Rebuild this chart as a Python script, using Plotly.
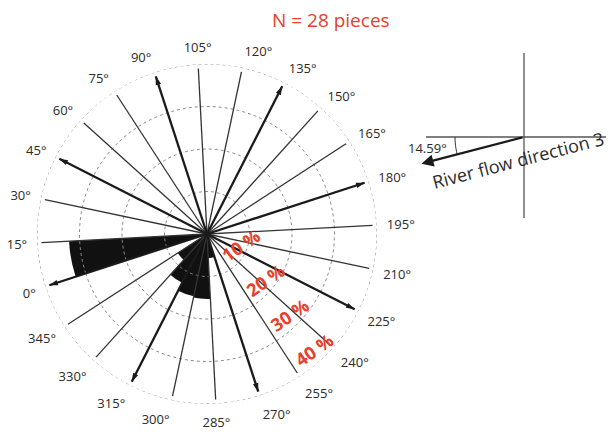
import math
import plotly.graph_objects as go

# ---------------- data ----------------
bin_centers = [7.5, 337.5, 322.5, 307.5, 292.5, 277.5]      # degrees (15-degree bins)
bin_percent = [32.5, 8.2, 12.9, 15.0, 15.3, 5.7]            # % of pieces
bin_width = 15

spoke_angles = list(range(0, 360, 15))
arrow_angles = [0, 45, 90, 135, 180, 225, 270, 315]
spoke_length = 39.0

angle_tickvals = list(range(0, 360, 15))
angle_ticktext = [f"{a}°" for a in angle_tickvals]
pct_tickvals = [10, 20, 30, 40]
pct_ticktext = ["10 %", "20 %", "30 %", "40 %"]

title_text = "N = 28 pieces"
flow_label = "River flow direction 3"
flow_angle = 14.59

# ---------------- layout constants ----------------
W, H = 611, 434
CX, CY, R = 207, 234, 170
ROTATION = 198
LABEL_INSET = 3.0          # % units: ring labels sit just inside their ring
RED = "#e8402a"
INK = "#2a2a2a"

fig = go.Figure()

# dotted rings
ring_theta = list(range(0, 361, 2))
for v in pct_tickvals:
    fig.add_trace(go.Scatterpolar(r=[v] * len(ring_theta), theta=ring_theta, mode="lines",
                                  line=dict(color="#8a8a8a", width=1, dash="dot"),
                                  cliponaxis=False, showlegend=False, hoverinfo="skip"))

# wedges
fig.add_trace(go.Barpolar(
    r=bin_percent, theta=bin_centers, width=[bin_width] * len(bin_centers),
    marker=dict(color="#111111", line=dict(width=0)),
    showlegend=False, hoverinfo="skip",
))

# spokes
thin_r, thin_t, thick_r, thick_t = [], [], [], []
for a in spoke_angles:
    if a in arrow_angles:
        thick_r += [0, spoke_length, None]
        thick_t += [a, a, None]
    else:
        thin_r += [0, spoke_length, None]
        thin_t += [a, a, None]

fig.add_trace(go.Scatterpolar(r=thin_r, theta=thin_t, mode="lines",
                              line=dict(color="#333333", width=1.3),
                              showlegend=False, hoverinfo="skip"))
fig.add_trace(go.Scatterpolar(r=thick_r, theta=thick_t, mode="lines",
                              line=dict(color="#1a1a1a", width=2.3),
                              showlegend=False, hoverinfo="skip"))
# arrow heads
fig.add_trace(go.Scatterpolar(
    r=[spoke_length] * len(arrow_angles), theta=arrow_angles, mode="markers",
    marker=dict(symbol="arrow", size=9, color="#1a1a1a",
                angle=[a - (ROTATION - 90) for a in arrow_angles],
                line=dict(width=0)),
    cliponaxis=False, showlegend=False, hoverinfo="skip"))

fig.update_layout(
    width=W, height=H,
    margin=dict(l=0, r=0, t=0, b=0),
    paper_bgcolor="white", plot_bgcolor="white",
    font=dict(family="Open Sans", color=INK),
    polar=dict(
        domain=dict(x=[(CX - R) / W, (CX + R) / W],
                    y=[(H - CY - R) / H, (H - CY + R) / H]),
        bgcolor="white",
        angularaxis=dict(
            rotation=ROTATION, direction="clockwise",
            tickmode="array", tickvals=angle_tickvals, ticktext=angle_ticktext,
            showgrid=False, showline=False,
            ticks="outside", ticklen=7, tickcolor="rgba(0,0,0,0)",
            tickfont=dict(size=13, color=INK, family="Open Sans"),
        ),
        radialaxis=dict(
            range=[0, 40], tickmode="array",
            tickvals=[v - LABEL_INSET for v in pct_tickvals], ticktext=pct_ticktext,
            showline=False, ticks="", showgrid=False,
            angle=-55, side="counterclockwise", tickangle=-90,
            tickfont=dict(size=18, color=RED, family="Open Sans", weight="bold"),
        ),
    ),
    xaxis=dict(range=[0, W], domain=[0, 1], visible=False, fixedrange=True),
    yaxis=dict(range=[H, 0], domain=[0, 1], visible=False, fixedrange=True),
)

# ---------------- inset: river flow direction ----------------
OX, OY = 524, 137           # origin of the inset cross
ARM = 106                   # arrow length
fig.add_shape(type="line", xref="x", yref="y", x0=OX, x1=OX, y0=53, y1=218,
              line=dict(color="#555555", width=1.3))
fig.add_shape(type="line", xref="x", yref="y", x0=426, x1=606, y0=OY, y1=OY,
              line=dict(color="#555555", width=1.3))
rad = math.radians(flow_angle)
tipx, tipy = OX - ARM * math.cos(rad), OY + ARM * math.sin(rad)
fig.add_annotation(x=tipx, y=tipy, ax=OX, ay=OY, xref="x", yref="y", axref="x", ayref="y",
                   text="", showarrow=True, arrowhead=2, arrowsize=1.1, arrowwidth=2.2,
                   arrowcolor="#1a1a1a")
# small arc marking the angle
arc_r = 69
pts = []
for i in range(7):
    t = math.radians(flow_angle * i / 6)
    pts.append((OX - arc_r * math.cos(t), OY + arc_r * math.sin(t)))
path = "M " + " L ".join(f"{x:.2f},{y:.2f}" for x, y in pts)
fig.add_shape(type="path", xref="x", yref="y", path=path,
              line=dict(color="#333333", width=1))
fig.add_annotation(x=427, y=148, xref="x", yref="y", text=f"{flow_angle}°", showarrow=False,
                   font=dict(size=13, color=INK, family="Open Sans"))
fig.add_annotation(x=518, y=160, xref="x", yref="y", text=flow_label, showarrow=False,
                   textangle=-flow_angle, font=dict(size=18, color=INK, family="Open Sans"))

# title
fig.add_annotation(x=331, y=20, xref="x", yref="y", text=title_text, showarrow=False,
                   font=dict(size=19, color=RED, family="Open Sans"))

fig.write_html("out.html", config={"displayModeBar": False},
               post_script="document.body.style.margin='0px';")
